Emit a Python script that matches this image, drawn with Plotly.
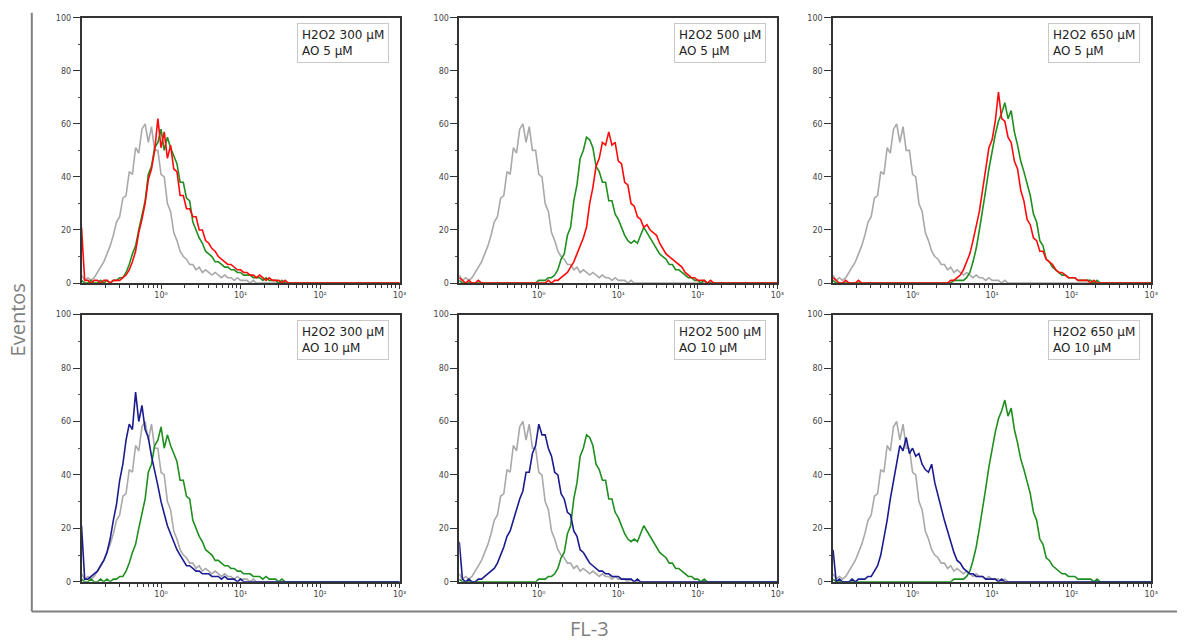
import numpy as np
import plotly.graph_objects as go

# ---------------- data ----------------
# FL-3 channel positions (log10 of fluorescence), 101 channels from 10^-1 to 10^3
log_channels = np.round(np.linspace(-1.0, 3.0, 101), 2)
channels = 10 ** log_channels

x_tick_vals = [1, 10, 100, 1000]
x_tick_text = ["10⁰", "10¹", "10²", "10³"]
y_tick_vals = [0, 20, 40, 60, 80, 100]

panel_labels = [
    "H2O2 300 μM<br>AO 5 μM",
    "H2O2 500 μM<br>AO 5 μM",
    "H2O2 650 μM<br>AO 5 μM",
    "H2O2 300 μM<br>AO 10 μM",
    "H2O2 500 μM<br>AO 10 μM",
    "H2O2 650 μM<br>AO 10 μM",
]

# control (gray) histogram, events per channel
control_gray = [
    3, 1, 2, 1, 2, 4, 6, 8, 11, 14,
    18, 23, 25, 32, 33, 42, 41, 51, 49, 58,
    60, 53, 59, 50, 50, 41, 40, 30, 27, 19,
    16, 12, 10, 9, 7, 7, 5, 6, 4, 5,
    4, 3, 4, 3, 2, 3, 2, 2, 1, 2,
    1, 1, 1, 0, 1, 0, 0, 0, 0, 0,
    0, 0, 0, 0, 0, 0, 0, 0, 0, 0,
    0, 0, 0, 0, 0, 0, 0, 0, 0, 0,
    0, 0, 0, 0, 0, 0, 0, 0, 0, 0,
    0, 0, 0, 0, 0, 0, 0, 0, 0, 0,
    0,
]

# H2O2 only (green)
green_300 = [
    1, 0, 0, 1, 0, 0, 1, 0, 1, 0,
    1, 1, 2, 2, 4, 7, 11, 14, 20, 25,
    31, 41, 44, 51, 53, 58, 50, 55, 51, 48,
    45, 38, 38, 32, 31, 23, 20, 17, 15, 12,
    11, 10, 8, 8, 7, 6, 6, 5, 5, 4,
    4, 3, 3, 3, 2, 2, 2, 1, 2, 1,
    1, 1, 0, 1, 0, 0, 0, 0, 0, 0,
    0, 0, 0, 0, 0, 0, 0, 0, 0, 0,
    0, 0, 0, 0, 0, 0, 0, 0, 0, 0,
    0, 0, 0, 0, 0, 0, 0, 0, 0, 0,
    0,
]
green_500 = [
    1, 0, 0, 0, 0, 0, 0, 0, 0, 0,
    0, 0, 0, 0, 0, 0, 0, 0, 0, 0,
    0, 0, 0, 0, 0, 1, 1, 1, 2, 2,
    3, 5, 9, 11, 18, 21, 31, 37, 47, 50,
    55, 54, 51, 44, 42, 38, 38, 31, 31, 26,
    24, 21, 18, 16, 15, 16, 15, 18, 21, 19,
    17, 15, 13, 11, 10, 9, 7, 7, 5, 5,
    4, 3, 2, 2, 1, 1, 0, 1, 0, 0,
    0, 0, 0, 0, 0, 0, 0, 0, 0, 0,
    0, 0, 0, 0, 0, 0, 0, 0, 0, 0,
    0,
]
green_650 = [
    1, 0, 0, 0, 0, 0, 0, 0, 0, 0,
    0, 0, 0, 0, 0, 0, 0, 0, 0, 0,
    0, 0, 0, 0, 0, 0, 0, 0, 0, 0,
    0, 0, 0, 0, 0, 0, 0, 0, 1, 1,
    1, 1, 2, 4, 8, 13, 20, 27, 35, 43,
    50, 56, 61, 64, 68, 62, 65, 57, 52, 46,
    42, 37, 33, 26, 23, 16, 14, 9, 8, 6,
    5, 4, 3, 3, 2, 2, 2, 1, 1, 1,
    1, 1, 0, 1, 0, 0, 0, 0, 0, 0,
    0, 0, 0, 0, 0, 0, 0, 0, 0, 0,
    0,
]

# H2O2 + AO 5 μM (red)
red_300 = [
    21, 1, 1, 0, 1, 1, 0, 1, 1, 0,
    1, 1, 1, 2, 3, 5, 8, 12, 19, 24,
    30, 39, 43, 50, 62, 51, 57, 47, 52, 43,
    42, 33, 33, 28, 28, 25, 25, 20, 20, 16,
    15, 13, 12, 10, 9, 8, 7, 7, 6, 5,
    5, 4, 4, 3, 3, 2, 3, 2, 1, 2,
    1, 1, 1, 0, 1, 0, 0, 0, 0, 0,
    0, 0, 0, 0, 0, 0, 0, 0, 0, 0,
    0, 0, 0, 0, 0, 0, 0, 0, 0, 0,
    0, 0, 0, 0, 0, 0, 0, 0, 0, 0,
    0,
]
red_500 = [
    2, 1, 0, 1, 0, 0, 1, 0, 0, 0,
    0, 0, 0, 0, 0, 0, 0, 0, 0, 0,
    0, 0, 0, 0, 0, 0, 0, 0, 1, 0,
    1, 1, 2, 3, 4, 6, 8, 11, 14, 17,
    21, 30, 36, 44, 47, 53, 52, 57, 52, 53,
    46, 45, 38, 37, 30, 29, 25, 24, 21, 22,
    20, 19, 18, 15, 13, 11, 10, 9, 8, 7,
    6, 4, 3, 2, 2, 1, 1, 1, 0, 1,
    0, 0, 0, 0, 0, 0, 0, 0, 0, 0,
    0, 0, 0, 0, 0, 0, 0, 0, 0, 0,
    0,
]
red_650 = [
    2, 1, 0, 0, 1, 0, 0, 0, 1, 0,
    0, 0, 0, 0, 0, 0, 0, 0, 0, 0,
    0, 0, 0, 0, 0, 0, 0, 0, 0, 0,
    0, 0, 0, 0, 0, 0, 0, 1, 1, 2,
    3, 5, 8, 11, 16, 21, 27, 35, 44, 51,
    54, 61, 72, 62, 61, 55, 53, 46, 43, 35,
    31, 24, 22, 17, 16, 12, 12, 9, 8, 7,
    5, 4, 4, 3, 2, 2, 2, 1, 1, 1,
    1, 0, 1, 0, 0, 0, 0, 0, 0, 0,
    0, 0, 0, 0, 0, 0, 0, 0, 0, 0,
    0,
]

# H2O2 + AO 10 μM (blue)
blue_300 = [
    21, 1, 1, 2, 3, 4, 6, 8, 11, 16,
    23, 29, 38, 44, 53, 59, 57, 71, 60, 66,
    57, 54, 47, 42, 36, 30, 25, 21, 18, 15,
    12, 10, 8, 6, 6, 5, 4, 4, 3, 3,
    3, 2, 2, 2, 1, 2, 1, 1, 1, 0,
    1, 0, 0, 0, 0, 0, 0, 0, 0, 0,
    0, 0, 0, 0, 0, 0, 0, 0, 0, 0,
    0, 0, 0, 0, 0, 0, 0, 0, 0, 0,
    0, 0, 0, 0, 0, 0, 0, 0, 0, 0,
    0, 0, 0, 0, 0, 0, 0, 0, 0, 0,
    0,
]
blue_500 = [
    15, 1, 0, 1, 0, 0, 1, 1, 2, 3,
    4, 5, 7, 10, 13, 17, 19, 23, 27, 31,
    34, 41, 41, 48, 51, 59, 55, 55, 50, 47,
    41, 40, 33, 31, 26, 25, 19, 17, 12, 11,
    9, 7, 6, 5, 4, 4, 3, 3, 2, 2,
    2, 1, 1, 1, 1, 0, 1, 0, 0, 0,
    0, 0, 0, 0, 0, 0, 0, 0, 0, 0,
    0, 0, 0, 0, 0, 0, 0, 0, 0, 0,
    0, 0, 0, 0, 0, 0, 0, 0, 0, 0,
    0, 0, 0, 0, 0, 0, 0, 0, 0, 0,
    0,
]
blue_650 = [
    12, 0, 1, 0, 0, 0, 1, 0, 1, 1,
    1, 2, 2, 4, 6, 10, 16, 23, 31, 38,
    45, 51, 49, 54, 48, 50, 47, 48, 44, 42,
    41, 44, 37, 32, 27, 23, 19, 15, 11, 8,
    7, 5, 4, 3, 3, 2, 2, 2, 1, 1,
    1, 1, 0, 1, 0, 0, 0, 0, 0, 0,
    0, 0, 0, 0, 0, 0, 0, 0, 0, 0,
    0, 0, 0, 0, 0, 0, 0, 0, 0, 0,
    0, 0, 0, 0, 0, 0, 0, 0, 0, 0,
    0, 0, 0, 0, 0, 0, 0, 0, 0, 0,
    0,
]

# ---------------- styling ----------------
GRAY, GREEN, RED, BLUE = "#a9a9a9", "#1f8f1f", "#ff0a0a", "#1b1b90"

panel_series = [
    [(control_gray, GRAY), (green_300, GREEN), (red_300, RED)],
    [(control_gray, GRAY), (green_500, GREEN), (red_500, RED)],
    [(control_gray, GRAY), (green_650, GREEN), (red_650, RED)],
    [(control_gray, GRAY), (green_300, GREEN), (blue_300, BLUE)],
    [(control_gray, GRAY), (green_500, GREEN), (blue_500, BLUE)],
    [(control_gray, GRAY), (green_650, GREEN), (blue_650, BLUE)],
]

W, H = 1184, 643
col_px = [(82, 402), (462, 782), (838, 1158)]
row_px = [(14, 283), (315, 586)]

minor_x = [m * 10.0 ** d for d in range(-1, 3) for m in range(2, 10)]

fig = go.Figure()
layout = {}
annotations = []
for k in range(6):
    r, c = divmod(k, 3)
    n = k + 1
    xs = "x" if n == 1 else f"x{n}"
    ys = "y" if n == 1 else f"y{n}"
    xl = "xaxis" if n == 1 else f"xaxis{n}"
    yl = "yaxis" if n == 1 else f"yaxis{n}"
    x0, x1 = col_px[c]
    t0, b0 = row_px[r]
    for vals, colr in panel_series[k]:
        fig.add_trace(go.Scatter(
            x=channels, y=vals, xaxis=xs, yaxis=ys, mode="lines",
            line=dict(color=colr, width=1.6), hoverinfo="skip", showlegend=False,
        ))
    layout[xl] = dict(
        domain=[x0 / W, x1 / W], anchor=ys, type="log", range=[-1, 3],
        tickvals=x_tick_vals, ticktext=x_tick_text,
        ticks="outside", ticklen=4, tickwidth=1, tickcolor="#333",
        minor=dict(tickvals=minor_x, ticks="outside", ticklen=3, tickwidth=1, tickcolor="#333"),
        showline=True, mirror=True, linecolor="#333", linewidth=1.6,
        showgrid=False, zeroline=False, layer="below traces",
        tickfont=dict(family="DejaVu Sans", size=8, color="#444"),
    )
    layout[yl] = dict(
        domain=[1 - b0 / H, 1 - t0 / H], anchor=xs, range=[0, 100],
        tickvals=y_tick_vals, ticks="outside", ticklen=7, tickwidth=1, tickcolor="#333",
        minor=dict(tickvals=[10, 30, 50, 70, 90], ticks="outside", ticklen=2, tickwidth=1, tickcolor="#555"),
        showline=True, mirror=True, linecolor="#333", linewidth=1.6,
        showgrid=False, zeroline=False,
        tickfont=dict(family="DejaVu Sans", size=8, color="#444"),
    )
    annotations.append(dict(
        x=(x1 - 11) / W, y=1 - (t0 + 5) / H, xref="paper", yref="paper",
        xanchor="right", yanchor="top", align="left", showarrow=False,
        text=panel_labels[k], bgcolor="white", bordercolor="#c8c8c8",
        borderwidth=1, borderpad=4,
        font=dict(family="DejaVu Sans", size=12, color="#222"),
    ))

annotations.append(dict(
    x=18 / W, y=1 - 320 / H, xref="paper", yref="paper", showarrow=False,
    text="Eventos", textangle=-90, xanchor="center", yanchor="middle",
    font=dict(family="Open Sans", size=20, color="#808080"),
))
annotations.append(dict(
    x=593 / W, y=1 - 633 / H, xref="paper", yref="paper", showarrow=False,
    text="FL-3", xanchor="center", yanchor="middle",
    font=dict(family="Open Sans", size=20, color="#808080"),
))

shapes = [
    dict(type="line", xref="paper", yref="paper", x0=32 / W, x1=32 / W,
         y0=1 - 9 / H, y1=1 - 616 / H, line=dict(color="#808080", width=2)),
    dict(type="line", xref="paper", yref="paper", x0=32 / W, x1=1.0,
         y0=1 - 616 / H, y1=1 - 616 / H, line=dict(color="#808080", width=2)),
]

fig.update_layout(
    width=W, height=H, margin=dict(l=0, r=0, t=0, b=0),
    paper_bgcolor="white", plot_bgcolor="white",
    annotations=annotations, shapes=shapes, showlegend=False,
    **layout,
)

fig.write_html("out.html", config={"displayModeBar": False},
               post_script="document.body.style.margin='0px';")
